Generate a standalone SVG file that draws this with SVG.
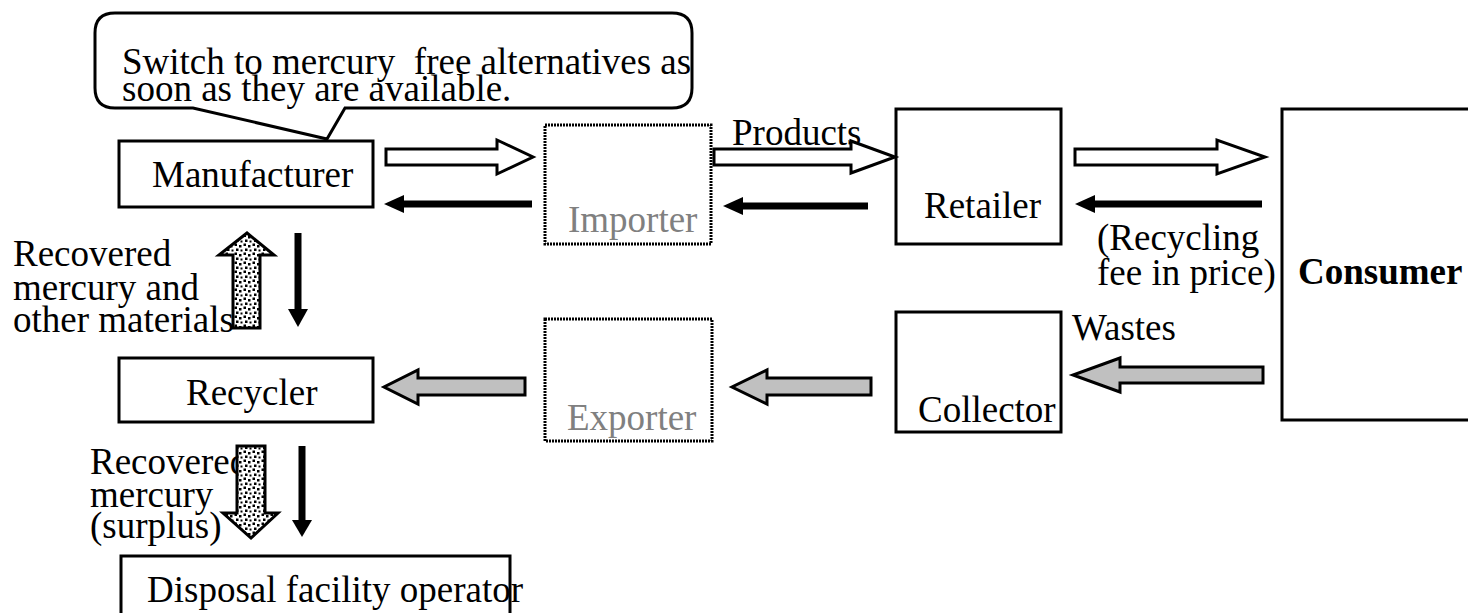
<svg xmlns="http://www.w3.org/2000/svg" width="1468" height="613" viewBox="0 0 1468 613">
<defs>
<style>
text{font-family:"Liberation Serif","Times New Roman",serif;font-size:37px;fill:#000}
.gray{fill:#808080}
.bold{font-weight:bold}
.box{fill:#fff;stroke:#000;stroke-width:3}
.dotbox{fill:#fff;stroke:#000;stroke-width:3;stroke-dasharray:2 1}
.hollow{fill:#fff;stroke:#000;stroke-width:3;stroke-linejoin:miter}
.grey{fill:#c0c0c0;stroke:#000;stroke-width:3;stroke-linejoin:miter}
.speck{fill:url(#dots);stroke:#000;stroke-width:3;stroke-linejoin:miter}
.bar{stroke:#000;stroke-width:7;fill:none}
.head{fill:#000}
</style>
<pattern id="dots" width="9" height="9" patternUnits="userSpaceOnUse">
<rect width="9" height="9" fill="#fff"/>
<rect x="0.5" y="0.5" width="2.5" height="2.5" fill="#000"/>
<rect x="5" y="2" width="2.5" height="2.5" fill="#000"/>
<rect x="2" y="5.5" width="2.5" height="2.5" fill="#000"/>
<rect x="6.5" y="6.5" width="2" height="2" fill="#000"/>
</pattern>
</defs>
<rect width="1468" height="613" fill="#fff"/>

<g id="callout">
<path class="box" d="M115,13 H672 Q692,13 692,33 V88 Q692,108 672,108 H345 L327,139 L193,108 H115 Q95,108 95,88 V33 Q95,13 115,13 Z"/>
<text x="122" y="74" style="white-space:pre">Switch to mercury  free alternatives as</text>
<text x="122" y="101">soon as they are available.</text>
</g>

<g id="manufacturer">
<rect class="box" x="119" y="141" width="254" height="66"/>
<text x="152" y="187">Manufacturer</text>
</g>

<g id="importer">
<rect class="dotbox" x="545" y="125" width="166" height="119"/>
<text class="gray" x="568" y="232">Importer</text>
</g>

<g id="retailer">
<rect class="box" x="896" y="109" width="165" height="135"/>
<text x="924" y="218">Retailer</text>
</g>

<g id="consumer">
<rect class="box" x="1282" y="109" width="200" height="311"/>
<text class="bold" x="1298" y="284">Consumer</text>
</g>

<g id="recycler">
<rect class="box" x="119" y="358" width="254" height="64"/>
<text x="186" y="405">Recycler</text>
</g>

<g id="exporter">
<rect class="dotbox" x="545" y="319" width="167" height="122"/>
<text class="gray" x="567" y="430">Exporter</text>
</g>

<g id="collector">
<rect class="box" x="896" y="312" width="165" height="120"/>
<text x="918" y="422">Collector</text>
</g>

<g id="disposal">
<rect class="box" x="121" y="556" width="389" height="70"/>
<text x="147" y="602">Disposal facility operator</text>
</g>

<g id="labels">
<text x="732" y="145">Products</text>
<text x="1097" y="250">(Recycling</text>
<text x="1097" y="285">fee in price)</text>
<text x="1072" y="340">Wastes</text>
<text x="13" y="266">Recovered</text>
<text x="13" y="300">mercury and</text>
<text x="13" y="332">other materials</text>
<text x="90" y="474">Recovered</text>
<text x="90" y="507">mercury</text>
<text x="90" y="538">(surplus)</text>
</g>

<g id="connectors">
<path class="hollow" d="M386,149 H497 V140 L533,157 L497,174 V165 H386 Z"/>
<path class="hollow" d="M714,149 H851 V141 L895,157 L851,173 V165 H714 Z"/>
<path class="hollow" d="M1075,149 H1217 V140 L1265,157 L1217,174 V165 H1075 Z"/>
<line class="bar" x1="532" y1="204" x2="400" y2="204"/>
<polygon class="head" points="384,204 404,195 404,213"/>
<line class="bar" x1="868" y1="206" x2="739" y2="206"/>
<polygon class="head" points="723,206 743,197 743,215"/>
<line class="bar" x1="1262" y1="204" x2="1091" y2="204"/>
<polygon class="head" points="1075,204 1095,195 1095,213"/>
<path class="grey" d="M1263,367 H1120 V358 L1073,375 L1120,392 V383 H1263 Z"/>
<path class="grey" d="M871,378 H767 V370 L732,387 L767,404 V395 H871 Z"/>
<path class="grey" d="M525,378 H418 V370 L384,387 L418,404 V395 H525 Z"/>
<path class="speck" d="M233,328 V255 H219 L247,233 L274,255 H260 V328 Z"/>
<line class="bar" x1="298" y1="233" x2="298" y2="312"/>
<polygon class="head" points="288,309 308,309 298,327"/>
<path class="speck" d="M237,446 H265 V513 H278 L251,538 L223,513 H237 Z"/>
<line class="bar" x1="302" y1="446" x2="302" y2="523"/>
<polygon class="head" points="292,520 312,520 302,537"/>
</g>
</svg>
